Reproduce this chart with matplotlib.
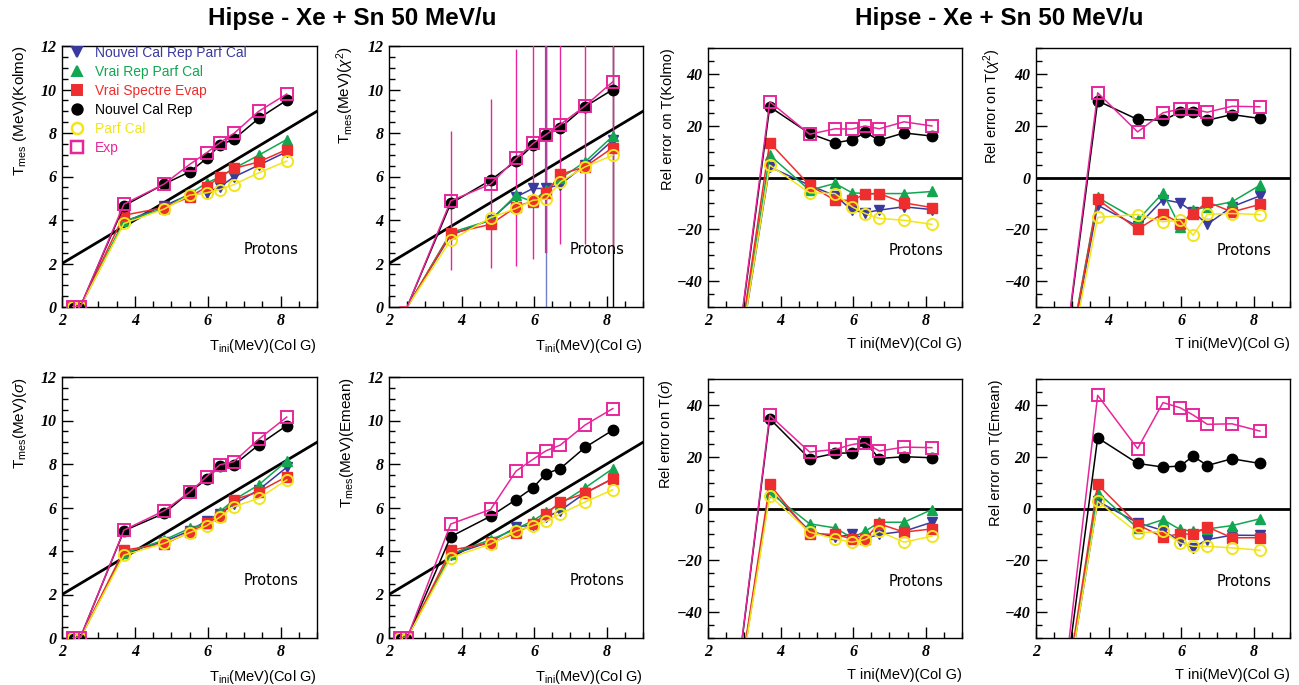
import matplotlib
matplotlib.use("Agg")
import matplotlib.pyplot as plt
from matplotlib.lines import Line2D
from matplotlib.ticker import MultipleLocator

plt.rcParams['mathtext.fontset'] = 'custom'
plt.rcParams['mathtext.rm'] = 'Liberation Sans'
plt.rcParams['mathtext.it'] = 'Liberation Sans:italic'
plt.rcParams['font.family'] = ['Liberation Sans', 'DejaVu Sans']

# ---------------- data ----------------
t_ini = [2.3, 2.5, 3.7, 4.8, 5.5, 5.97, 6.33, 6.72, 7.4, 8.17]

series_names = ["Nouvel Cal Rep Parf Cal", "Vrai Rep Parf Cal", "Vrai Spectre Evap",
                "Nouvel Cal Rep", "Parf Cal", "Exp"]

# T_mes (Kolmo)
kolmo_blue = [0, 0, 3.91, 4.65, 5.17, 5.25, 5.52, 5.98, 6.52, 7.14]
kolmo_green = [0, 0, 3.95, 4.53, 5.20, 5.70, 5.98, 6.37, 6.98, 7.70]
kolmo_red = [0, 0, 4.22, 4.57, 5.06, 5.52, 5.98, 6.37, 6.67, 7.24]
kolmo_black = [0, 0, 4.65, 5.65, 6.21, 6.83, 7.44, 7.72, 8.67, 9.51]
kolmo_yellow = [0, 0, 3.84, 4.50, 5.14, 5.25, 5.40, 5.63, 6.17, 6.71]
kolmo_pink = [0, 0, 4.73, 5.65, 6.55, 7.09, 7.55, 7.98, 9.00, 9.79]

# T_mes (chi2)
chi2_blue = [0, 0, 3.30, 4.02, 5.06, 5.45, 5.45, 5.63, 6.52, 7.67]
chi2_green = [0, 0, 3.42, 3.99, 5.14, 4.83, 5.40, 5.91, 6.67, 7.86]
chi2_red = [0, 0, 3.38, 3.80, 4.60, 4.88, 5.22, 6.10, 6.44, 7.33]
chi2_black = [0, 0, 4.76, 5.83, 6.71, 7.44, 7.90, 8.24, 9.21, 10.00]
chi2_yellow = [0, 0, 3.07, 4.11, 4.53, 4.91, 4.96, 5.75, 6.44, 6.98]
chi2_pink = [0, 0, 4.88, 5.65, 6.83, 7.52, 7.93, 8.39, 9.24, 10.36]
# error bar ranges (chi2 fit)
chi2_pink_lo = [1.70, 1.80, 1.90, 2.20, 2.50, 2.90, 2.90, 2.60]
chi2_pink_hi = [8.10, 9.55, 11.85, 13.0, 13.0, 13.0, 13.0, 13.0]
chi2_blue_bar_x = [6.33]
chi2_blue_bar_lo = [-1.0]
chi2_blue_bar_hi = [13.0]
chi2_black_bar_x = [8.17]
chi2_black_bar_lo = [-1.0]
chi2_black_bar_hi = [13.0]

# T_mes (sigma)
sigma_blue = [0, 0, 3.92, 4.43, 4.93, 5.39, 5.69, 6.16, 6.81, 7.85]
sigma_green = [0, 0, 3.89, 4.50, 5.04, 5.27, 5.81, 6.35, 7.04, 8.14]
sigma_red = [0, 0, 4.04, 4.32, 4.86, 5.27, 5.61, 6.35, 6.73, 7.42]
sigma_black = [0, 0, 4.93, 5.73, 6.70, 7.30, 7.91, 7.96, 8.88, 9.77]
sigma_yellow = [0, 0, 3.81, 4.35, 4.84, 5.16, 5.55, 6.04, 6.42, 7.27]
sigma_pink = [0, 0, 4.96, 5.85, 6.70, 7.42, 7.96, 8.11, 9.14, 10.16]

# T_mes (Emean)
emean_blue = [0, 0, 3.81, 4.43, 5.09, 5.21, 5.55, 5.86, 6.66, 7.33]
emean_green = [0, 0, 3.86, 4.52, 5.01, 5.40, 5.78, 6.17, 6.90, 7.79]
emean_red = [0, 0, 4.04, 4.37, 4.83, 5.24, 5.71, 6.25, 6.66, 7.33]
emean_black = [0, 0, 4.66, 5.60, 6.36, 6.91, 7.56, 7.79, 8.76, 9.56]
emean_yellow = [0, 0, 3.70, 4.32, 4.91, 5.17, 5.37, 5.71, 6.25, 6.82]
emean_pink = [0, 0, 5.24, 5.91, 7.67, 8.22, 8.61, 8.87, 9.79, 10.55]

# relative errors (%)
rk_blue = [-100, -100, 4.1, -3.0, -7.0, -12.6, -13.6, -12.6, -11.3, -12.4]
rk_green = [-100, -100, 8.6, -4.9, -2.3, -5.9, -6.2, -6.2, -6.2, -5.4]
rk_red = [-100, -100, 13.5, -3.0, -8.8, -8.8, -6.4, -6.2, -9.8, -11.6]
rk_black = [-100, -100, 27.3, 17.0, 13.4, 14.5, 17.4, 14.4, 17.2, 16.0]
rk_yellow = [-100, -100, 4.8, -5.9, -6.2, -11.3, -13.9, -15.8, -16.5, -18.1]
rk_pink = [-100, -100, 29.3, 16.7, 18.8, 18.7, 19.9, 18.8, 21.5, 19.9]

rc_blue = [-100, -100, -10.7, -18.8, -8.5, -9.8, -13.3, -18.1, -11.3, -7.1]
rc_green = [-100, -100, -7.7, -16.5, -5.9, -19.0, -12.6, -11.3, -9.4, -3.0]
rc_red = [-100, -100, -8.4, -20.0, -13.9, -17.8, -13.9, -9.4, -13.3, -10.4]
rc_black = [-100, -100, 29.6, 22.4, 22.1, 25.2, 25.2, 22.1, 24.3, 22.8]
rc_yellow = [-100, -100, -15.4, -14.3, -17.1, -16.5, -22.3, -14.2, -13.9, -14.3]
rc_pink = [-100, -100, 32.7, 17.6, 25.0, 26.4, 26.4, 25.2, 27.5, 27.3]

rs_blue = [-100, -100, 7.3, -8.8, -11.1, -10.0, -11.6, -10.0, -8.8, -5.3]
rs_green = [-100, -100, 6.3, -5.9, -7.5, -11.3, -8.8, -5.3, -5.3, -0.4]
rs_red = [-100, -100, 9.3, -9.7, -10.0, -11.7, -11.7, -5.9, -9.1, -7.9]
rs_black = [-100, -100, 34.7, 19.2, 21.3, 21.5, 25.6, 19.3, 20.0, 19.6]
rs_yellow = [-100, -100, 5.0, -9.1, -11.7, -13.0, -12.0, -8.8, -13.0, -10.7]
rs_pink = [-100, -100, 36.0, 21.8, 22.8, 24.7, 25.4, 22.2, 23.7, 23.5]

re_blue = [-100, -100, 2.8, -5.5, -8.5, -12.6, -15.2, -12.0, -10.3, -10.4]
re_green = [-100, -100, 6.1, -7.5, -4.3, -8.1, -8.8, -7.9, -6.6, -4.0]
re_red = [-100, -100, 9.3, -6.2, -11.1, -9.7, -10.0, -7.1, -11.3, -11.3]
re_black = [-100, -100, 27.3, 17.4, 16.0, 16.4, 20.2, 16.6, 19.2, 17.4]
re_yellow = [-100, -100, 2.8, -9.4, -8.8, -13.3, -14.6, -14.6, -15.2, -16.1]
re_pink = [-100, -100, 43.7, 23.1, 40.9, 38.9, 36.1, 32.5, 32.7, 29.9]

diag_x = [2, 9]

# ---------------- styles ----------------
C_BLUE = "#3a3a9e"
C_GREEN = "#12a650"
C_RED = "#ee2e2e"
C_BLACK = "#000000"
C_YELLOW = "#f2e51c"
C_PINK = "#e8269c"

styles = [
    dict(color=C_BLUE, marker="v", mfc=C_BLUE, mec=C_BLUE, ms=7.5, mew=1),
    dict(color=C_GREEN, marker="^", mfc=C_GREEN, mec=C_GREEN, ms=7.5, mew=1),
    dict(color=C_RED, marker="s", mfc=C_RED, mec=C_RED, ms=7, mew=1),
    dict(color=C_BLACK, marker="o", mfc=C_BLACK, mec=C_BLACK, ms=7.5, mew=1),
    dict(color=C_YELLOW, marker="o", mfc="none", mec=C_YELLOW, ms=8, mew=1.4),
    dict(color=C_PINK, marker="s", mfc="none", mec=C_PINK, ms=8, mew=1.4),
]
draw_order = [2, 1, 0, 3, 4, 5]

fig = plt.figure(figsize=(12.99, 6.85), dpi=100)

W = 1299.0
H = 685.0
lefts = [62, 389, 708, 1036]
widths = [255, 254, 254, 254]
row_top = [46, 377]
row_bot = [307, 638]

panels = [
    (0, 0, [kolmo_blue, kolmo_green, kolmo_red, kolmo_black, kolmo_yellow, kolmo_pink],
     r"T$_{\rm mes}$ (MeV)(Kolmo)", r"T$_{\rm ini}$(MeV)(Col G)", "T"),
    (0, 1, [chi2_blue, chi2_green, chi2_red, chi2_black, chi2_yellow, chi2_pink],
     r"T$_{\rm mes}$(MeV)($\chi^{2}$)", r"T$_{\rm ini}$(MeV)(Col G)", "T"),
    (0, 2, [rk_blue, rk_green, rk_red, rk_black, rk_yellow, rk_pink],
     "Rel error on T(Kolmo)", "T ini(MeV)(Col G)", "R"),
    (0, 3, [rc_blue, rc_green, rc_red, rc_black, rc_yellow, rc_pink],
     r"Rel error on T($\chi^{2}$)", "T ini(MeV)(Col G)", "R"),
    (1, 0, [sigma_blue, sigma_green, sigma_red, sigma_black, sigma_yellow, sigma_pink],
     r"T$_{\rm mes}$(MeV)($\sigma$)", r"T$_{\rm ini}$(MeV)(Col G)", "T"),
    (1, 1, [emean_blue, emean_green, emean_red, emean_black, emean_yellow, emean_pink],
     r"T$_{\rm mes}$(MeV)(Emean)", r"T$_{\rm ini}$(MeV)(Col G)", "T"),
    (1, 2, [rs_blue, rs_green, rs_red, rs_black, rs_yellow, rs_pink],
     r"Rel error on T($\sigma$)", "T ini(MeV)(Col G)", "R"),
    (1, 3, [re_blue, re_green, re_red, re_black, re_yellow, re_pink],
     "Rel error on T(Emean)", "T ini(MeV)(Col G)", "R"),
]

axes_list = []
for (r, c, data, ylab, xlab, kind) in panels:
    top = row_top[r] + (2 if kind == "R" else 0)
    bot = row_bot[r]
    ax = fig.add_axes([lefts[c] / W, 1 - bot / H, widths[c] / W, (bot - top) / H])
    axes_list.append(ax)
    ax.set_xlim(2, 9)
    if kind == "T":
        ax.set_ylim(0, 12)
        ax.yaxis.set_major_locator(MultipleLocator(2))
        ax.yaxis.set_minor_locator(MultipleLocator(0.5))
        ax.plot(diag_x, diag_x, color="black", lw=2.0, zorder=2)
    else:
        ax.set_ylim(-50, 50)
        ax.yaxis.set_major_locator(MultipleLocator(20))
        ax.yaxis.set_minor_locator(MultipleLocator(5))
        ax.axhline(0, color="black", lw=2.0, zorder=2)
    ax.xaxis.set_major_locator(MultipleLocator(2))
    ax.xaxis.set_minor_locator(MultipleLocator(0.5))

    if r == 0 and c == 1:
        # error bars of the chi2 fit
        ax.vlines(t_ini[2:], chi2_pink_lo, chi2_pink_hi, color=C_PINK, lw=1.0, zorder=3)
        ax.vlines(chi2_blue_bar_x, chi2_blue_bar_lo, chi2_blue_bar_hi, color="#7080c8", lw=1.0, zorder=2.5)
        ax.vlines(chi2_black_bar_x, chi2_black_bar_lo, chi2_black_bar_hi, color="black", lw=1.0, zorder=2.5)
        ax.vlines(chi2_blue_bar_x, [2.5], chi2_blue_bar_hi, color="#b0409c", lw=1.6, zorder=3.1)
        mev = list(range(2, len(t_ini)))
    else:
        mev = None

    for k in draw_order:
        st = styles[k]
        ax.plot(t_ini, data[k], color=st["color"], lw=1.1, marker=st["marker"],
                markerfacecolor=st["mfc"], markeredgecolor=st["mec"],
                markersize=st["ms"], markeredgewidth=st["mew"], markevery=mev,
                zorder=4 + k * 0.1)

    ax.tick_params(which="both", direction="in", top=False, right=False, width=1.0)
    ax.tick_params(which="major", length=8, pad=4)
    ax.tick_params(which="minor", length=4)
    for lab in ax.get_xticklabels() + ax.get_yticklabels():
        lab.set_fontfamily("Liberation Serif")
        lab.set_fontweight("bold")
        lab.set_fontstyle("italic")
        lab.set_fontsize(11.5)
    for sp in ax.spines.values():
        sp.set_linewidth(1.0)

    if kind == "T":
        ax.set_ylabel(ylab, fontsize=11, loc="top", labelpad=8)
    else:
        ax.set_ylabel(ylab, fontsize=10.5, loc="top", labelpad=1)
    ax.set_xlabel(xlab, fontsize=10.5, loc="right", labelpad=6)
    ax.text(0.82, 0.22, "Protons", transform=ax.transAxes, ha="center", va="center",
            fontsize=10.5, family="DejaVu Sans", zorder=6)

# legend in the first panel
ax0 = axes_list[0]
handles = []
for k in range(6):
    st = styles[k]
    handles.append(Line2D([], [], ls="none", marker=st["marker"], markerfacecolor=st["mfc"],
                          markeredgecolor=st["mec"], markersize=st["ms"], markeredgewidth=st["mew"] + 0.4))
leg = ax0.legend(handles, series_names, loc="upper left", frameon=False, fontsize=10,
                 handlelength=1.0, handletextpad=0.8, labelspacing=0.36,
                 borderaxespad=0.0, bbox_to_anchor=(0.01, 1.02))
for txt, st in zip(leg.get_texts(), styles):
    txt.set_color(st["color"])

fig.text(352 / W, 1 - 18 / H, "Hipse - Xe + Sn 50 MeV/u", ha="center", va="center",
         fontsize=17.5, fontweight="bold")
fig.text(999 / W, 1 - 18 / H, "Hipse - Xe + Sn 50 MeV/u", ha="center", va="center",
         fontsize=17.5, fontweight="bold")

fig.savefig("out.png", dpi=100)
